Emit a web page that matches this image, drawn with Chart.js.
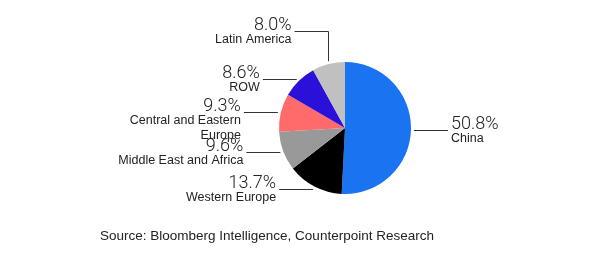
<!DOCTYPE html>
<html lang="en">
<head>
    <meta charset="UTF-8">
    <title>Smartphone shipments by region</title>
    <style>
        html, body {
            margin: 0;
            padding: 0;
            background: #fff;
        }
        .wrap {
            position: relative;
            width: 600px;
            height: 256px;
        }
        .source {
            position: absolute;
            left: 100px;
            top: 228px;
            font-family: 'Liberation Sans', Arial, sans-serif;
            font-size: 13.5px;
            color: #222;
        }
    </style>
    <script src="https://cdn.jsdelivr.net/npm/chart.js"></script>
</head>
<body>
    <div class="wrap">
        <canvas id="pie" width="600" height="256"></canvas>
        <div class="source">Source: Bloomberg Intelligence, Counterpoint Research</div>
    </div>

    <script>
        // Data, clockwise from 12 o'clock
        const regions = ['China', 'Western Europe', 'Middle East and Africa', 'Central and Eastern Europe', 'ROW', 'Latin America'];
        const shares = [50.8, 13.7, 9.6, 9.3, 8.6, 8.0];
        const colors = ['#1a73f0', '#000000', '#999999', '#ff6a6a', '#2a10d8', '#c0c0c0'];
        // label text lines (name may wrap)
        const nameLines = [['China'], ['Western Europe'], ['Middle East and Africa'], ['Central and Eastern', 'Europe'], ['ROW'], ['Latin America']];

        const leaderLabels = {
            id: 'leaderLabels',
            afterDatasetsDraw(chart) {
                const ctx = chart.ctx;
                const meta = chart.getDatasetMeta(0);
                ctx.save();
                ctx.strokeStyle = '#333';
                ctx.lineWidth = 1;
                ctx.fillStyle = '#222';
                meta.data.forEach((arc, i) => {
                    const mid = (arc.startAngle + arc.endAngle) / 2;
                    const r = arc.outerRadius + 3;
                    const ax = arc.x + Math.cos(mid) * r;
                    const ay = arc.y + Math.sin(mid) * r;
                    const right = Math.cos(mid) >= 0;
                    let lx = ax, ly = Math.round(ay) + 0.5;
                    ctx.beginPath();
                    if (i === regions.length - 1) {
                        // elbow: up then left
                        const ex = Math.round(ax) + 0.5;
                        ly = 31.5;
                        ctx.moveTo(ex, ay);
                        ctx.lineTo(ex, ly);
                        lx = ex - 34;
                        ctx.lineTo(lx, ly);
                    } else {
                        ctx.moveTo(ax, ly);
                        lx = right ? ax + 34 : ax - 34;
                        ctx.lineTo(lx, ly);
                    }
                    ctx.stroke();

                    const tx = right ? lx + 3 : lx - 3;
                    ctx.textAlign = right ? 'left' : 'right';
                    ctx.textBaseline = 'alphabetic';
                    ctx.font = '300 18px Roboto, "Liberation Sans", sans-serif';
                    ctx.fillText(shares[i].toFixed(1) + '%', tx, ly - 2);
                    ctx.font = '12.5px "Liberation Sans", Arial, sans-serif';
                    nameLines[i].forEach((line, k) => {
                        ctx.fillText(line, tx, ly + 11 + k * 15);
                    });
                });
                ctx.restore();
            }
        };

        new Chart(document.getElementById('pie'), {
            type: 'pie',
            data: {
                labels: regions,
                datasets: [{
                    data: shares,
                    backgroundColor: colors,
                    borderWidth: 0
                }]
            },
            options: {
                responsive: false,
                animation: false,
                layout: {
                    padding: { left: 279, right: 189, top: 62, bottom: 62 }
                },
                plugins: {
                    legend: { display: false },
                    tooltip: { enabled: false }
                }
            },
            plugins: [leaderLabels]
        });
    </script>
</body>
</html>
